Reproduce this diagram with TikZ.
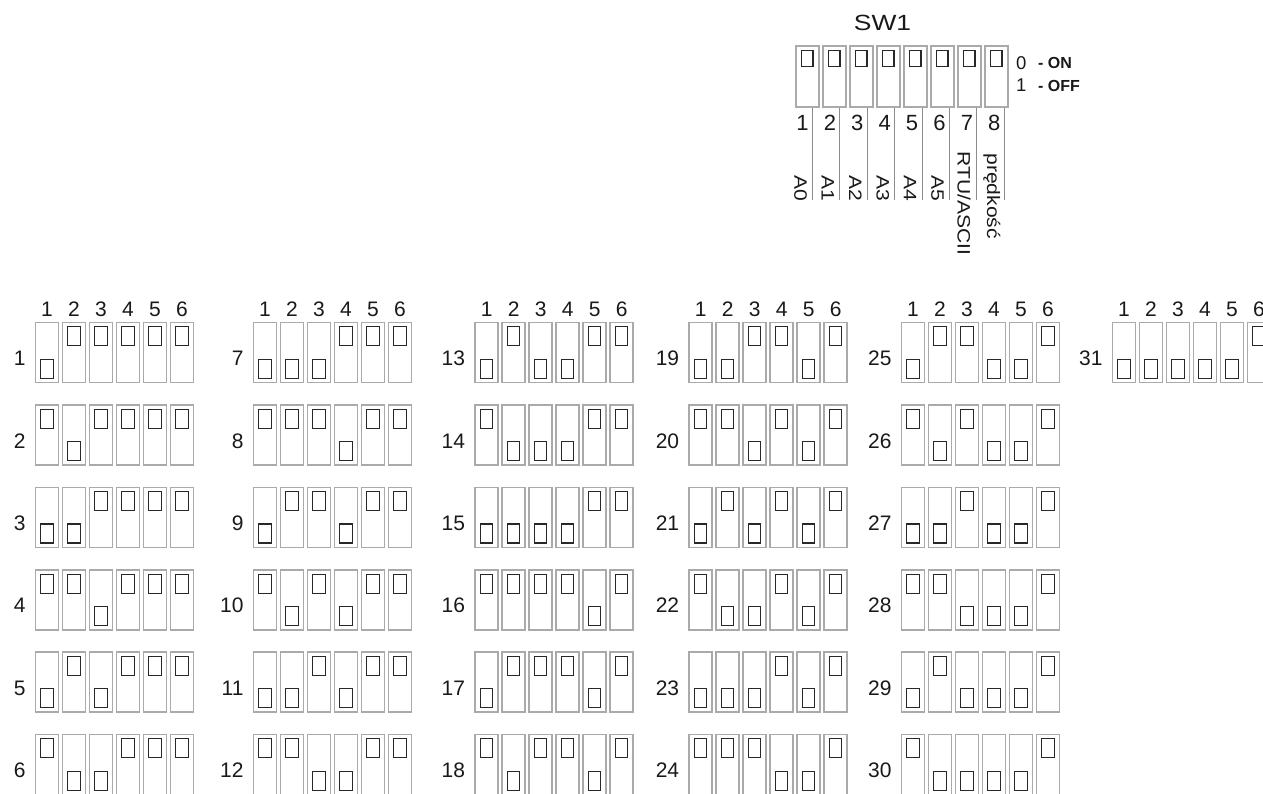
\documentclass[tikz,border=0pt]{standalone}
\usepackage{graphicx}
\usepackage{fontspec}
\setmainfont{Liberation Sans}
\definecolor{framegray}{RGB}{170,170,170}
\definecolor{knobdark}{RGB}{40,40,40}
\definecolor{leadergray}{RGB}{140,140,140}
\definecolor{txtdark}{RGB}{25,25,25}
\newcommand\widetxt[2]{\scalebox{#1}[1]{#2}}
\tikzset{
  swbox/.style={draw=framegray, line width=1.6pt, fill=white, inner sep=0pt, minimum width=23pt, minimum height=60pt},
  knobbox/.style={draw=knobdark, line width=1.15pt, inner sep=0pt, minimum width=12.3pt, minimum height=19pt},
  numtxt/.style={font=\fontsize{21}{24}\selectfont, inner sep=0pt, text=txtdark},
  swnum/.style={font=\fontsize{22}{25}\selectfont, inner sep=0pt, text=txtdark},
  rottxt/.style={font=\fontsize{18}{20}\selectfont, inner sep=0pt, rotate=-90, text=txtdark},
  titletxt/.style={font=\fontsize{22}{25}\selectfont, inner sep=0pt, text=txtdark},
  sidetxt/.style={font=\fontsize{18.5}{21}\selectfont, inner sep=0pt, text=txtdark},
  boldtxt/.style={font=\fontsize{16}{18}\selectfont\bfseries, inner sep=0pt, text=txtdark},
  leader/.style={draw=leadergray, line width=0.8pt}
}
\begin{document}
\begin{tikzpicture}[x=1pt,y=-1pt]
\useasboundingbox (0,0) rectangle (1263,793);
\clip (0,0) rectangle (1263,793);

% ---------- SW1 ----------
\node[titletxt, anchor=base] (swtitle) at (882.5,30.7) {\widetxt{1.2}{SW1}};
\foreach \k in {1,...,8} {
  \node[swbox, minimum height=61pt] (sw\k) at ({795+12.3+27*(\k-1)},76.5) {};
  \node[knobbox, minimum width=11.5pt, minimum height=16pt, anchor=north] (swk\k) at ([yshift=-5pt]sw\k.north) {};
  \coordinate (lt\k) at ({812.3+27.4*(\k-1)},108);
  \coordinate (lb\k) at ({812.3+27.4*(\k-1)},200);
  \draw[leader] (lt\k) -- (lb\k);
  \node[swnum, anchor=base] (swn\k) at ({802.5+27.4*(\k-1)},130) {\k};
}
\foreach \k/\t in {1/A0,2/A1,3/A2,4/A3,5/A4,6/A5} {
  \node[rottxt, anchor=base east] (lab\t) at ([xshift=-18pt,yshift=-1.7pt]lb\k) {\widetxt{1.17}{\t}};
}
\node[rottxt, anchor=base west] (labrtu) at ([xshift=-19pt,yshift=-43.7pt]lt7) {\widetxt{1.17}{RTU/ASCII}};
\node[rottxt, anchor=base west] (labspeed) at ([xshift=-17pt,yshift=-45.3pt]lt8) {\widetxt{1.17}{prędkość}};

\node[sidetxt, anchor=base west] (on0) at (1016,69.5) {0};
\node[boldtxt, anchor=base west] (onlab) at (1038,68.5) {- ON};
\node[sidetxt, anchor=base west] (off1) at (1016,91.7) {1};
\node[boldtxt, anchor=base west] (offlab) at (1038,91.2) {- OFF};

% ---------- address table ----------
\foreach \gx [count=\g from 0] in {34.7,252.7,474.3,688.3,900.7,1111.7} {
  \foreach \k in {1,...,6} {
    \node[numtxt, anchor=base] (h\g-\k) at ({\gx+12.3+27*(\k-1)},316.5) {\k};
  }
  \foreach \r in {0,...,5} {
    \pgfmathsetmacro\n{int(6*\g+\r+1)}
    \ifnum\n<32
      \pgfmathsetmacro\rowtop{321.7+82.4*\r}
      \node[numtxt, anchor=base east] (lab\n) at ({\gx-9},{\rowtop+44}) {\n};
      \foreach \k in {1,...,6} {
        \pgfmathsetmacro\bit{int(mod(floor(\n/(2^(\k-1))),2))}
        \node[swbox] (s\n-\k) at ({\gx+12.3+27*(\k-1)},{\rowtop+30.8}) {};
        \ifnum\bit=1
          \node[knobbox, anchor=south] (k\n-\k) at ([yshift=4.6pt]s\n-\k.south) {};
        \else
          \node[knobbox, anchor=north] (k\n-\k) at ([yshift=-4.6pt]s\n-\k.north) {};
        \fi
      }
    \fi
  }
}
\end{tikzpicture}
\end{document}
